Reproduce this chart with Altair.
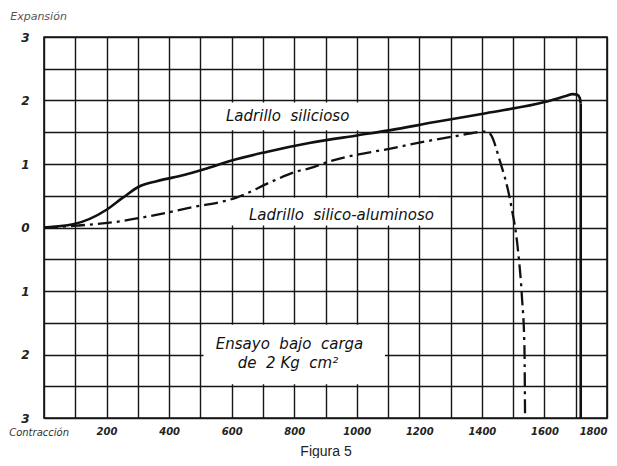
import altair as alt
import pandas as pd

# --- data ---
# Ladrillo silicioso (solid)
sil_x = [0, 93, 200, 252, 306, 360, 434, 520, 603, 711, 848, 1000, 1104, 1250, 1413, 1604, 1668, 1690, 1705, 1713, 1716]
sil_y = [0, 0.05, 0.28, 0.47, 0.65, 0.73, 0.81, 0.93, 1.06, 1.19, 1.33, 1.45, 1.53, 1.66, 1.80, 1.98, 2.07, 2.10, 2.09, 2.04, 1.95]
# vertical fall of the solid curve
drop_x = [1716]
drop_y1 = [1.95]
drop_y2 = [-3]

# Ladrillo silico-aluminoso (dash-dot)
alu_x = [0, 105, 233, 338, 476, 615, 731, 807, 848, 912, 1104, 1305, 1416, 1430, 1455, 1493, 1515, 1528, 1536, 1538]
alu_y = [0, 0.03, 0.09, 0.18, 0.32, 0.47, 0.73, 0.88, 0.93, 1.04, 1.24, 1.43, 1.51, 1.45, 1.09, 0.36, -0.34, -1.09, -1.87, -3]

x_grid = list(range(0, 1900, 100))
y_grid = [-3, -2.5, -2, -1.5, -1, -0.5, 0, 0.5, 1, 1.5, 2, 2.5, 3]

# white label boxes (data units)
box_x1 = [520, 520, 510]
box_x2 = [1060, 1260, 1090]
box_y1 = [1.53, 0.03, -1.53]
box_y2 = [1.97, 0.47, -2.47]

# annotations
NB = "\u00a0"
ann_text = [
    "Ladrillo" + NB * 2 + "silicioso",
    "Ladrillo" + NB * 2 + "silico-aluminoso",
    "Ensayo" + NB * 2 + "bajo" + NB * 2 + "carga",
    "de" + NB * 2 + "2" + NB + "Kg" + NB * 2 + "cm²",
]
ann_x = [779, 951, 785, 780]
ann_y = [1.76, 0.20, -1.84, -2.13]

left_text = ["Expansión"]
left_x = [-108]
left_y = [3.31]

right_text = ["Contracción"]
right_x = [80]
right_y = [-3.23]

sil = pd.DataFrame({"x": sil_x, "y": sil_y})
drop = pd.DataFrame({"x": drop_x, "y": drop_y1, "y2": drop_y2})
alu = pd.DataFrame({"x": alu_x, "y": alu_y})
boxes = pd.DataFrame({"x": box_x1, "x2": box_x2, "y": box_y1, "y2": box_y2})
ann = pd.DataFrame({"t": ann_text, "x": ann_x, "y": ann_y})
left_df = pd.DataFrame({"t": left_text, "x": left_x, "y": left_y})
right_df = pd.DataFrame({"t": right_text, "x": right_x, "y": right_y})

FONT = "DejaVu Sans"

xs = alt.Scale(domain=[0, 1800], nice=False, zero=False)
ys = alt.Scale(domain=[-3, 3], nice=False, zero=False)

xaxis = alt.Axis(
    values=x_grid, grid=True, gridColor="#151515", gridWidth=1.4, gridOpacity=1,
    domain=False, ticks=False, title="Figura 5", titleFont="Liberation Sans",
    titleFontSize=14, titleFontWeight="normal", titleColor="#222", titleY=33,
    titleBaseline="middle",
    labelExpr="(datum.value % 200 == 0 && datum.value > 0) ? datum.label : ''",
    labelFont=FONT, labelFontStyle="italic", labelFontWeight="bold", labelFontSize=10,
    labelColor="#222", labelPadding=8, labelFlush=True, labelOverlap=False,
    format="d",
)
yaxis = alt.Axis(
    values=y_grid, grid=True, gridColor="#151515", gridWidth=1.4, gridOpacity=1,
    domain=False, ticks=False, title=None,
    labelExpr="(datum.value % 1 == 0) ? format(abs(datum.value), 'd') : ''",
    labelFont=FONT, labelFontStyle="italic", labelFontWeight="bold", labelFontSize=12,
    labelColor="#222", labelPadding=15, labelFlush=False, labelOverlap=False,
)

X = alt.X("x:Q", scale=xs, axis=xaxis)
Y = alt.Y("y:Q", scale=ys, axis=yaxis)

rects = alt.Chart(boxes).mark_rect(color="white").encode(x=X, x2="x2:Q", y=Y, y2="y2:Q")

line_sil = alt.Chart(sil).mark_line(color="#111", strokeWidth=2.6, interpolate="monotone").encode(x=X, y=Y)
rule_sil = alt.Chart(drop).mark_rule(color="#111", strokeWidth=2.6).encode(x=X, y=Y, y2="y2:Q")
line_alu = alt.Chart(alu).mark_line(
    color="#111", strokeWidth=2.3, strokeDash=[14, 5, 3, 5], interpolate="monotone"
).encode(x=X, y=Y)

labels = alt.Chart(ann).mark_text(
    font=FONT, fontStyle="italic", fontSize=15, color="#111", align="center", baseline="middle"
).encode(x=X, y=Y, text="t:N")

left_labels = alt.Chart(left_df).mark_text(
    font=FONT, fontStyle="italic", fontSize=11, color="#555", baseline="middle", align="left"
).encode(x=X, y=Y, text="t:N")

right_labels = alt.Chart(right_df).mark_text(
    font=FONT, fontStyle="italic", fontSize=10, color="#333", baseline="middle", align="right"
).encode(x=X, y=Y, text="t:N")

chart = alt.layer(rects, line_sil, rule_sil, line_alu, labels, left_labels, right_labels).properties(
    width=563, height=381,
    autosize=alt.AutoSizeParams(type="none"),
    padding={"left": 36, "top": 29, "right": 2, "bottom": 40},
    background="white",
).configure_view(stroke="#151515", strokeWidth=1.6)

chart.save("out.html", embed_options={"renderer": "svg", "actions": False})
